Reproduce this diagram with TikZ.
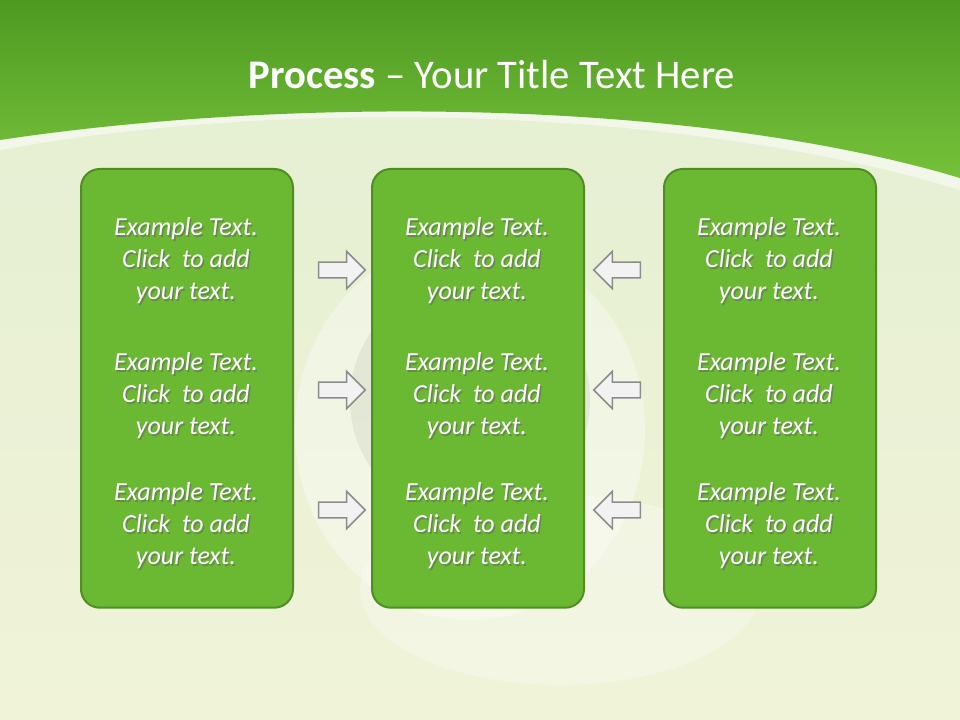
\documentclass[tikz,border=0pt]{standalone}
\usepackage{fontspec}
\setmainfont{Carlito}
\usetikzlibrary{shapes.arrows,shadows}
\definecolor{boxg}{HTML}{6BB833}
\definecolor{boxb}{HTML}{4F8E24}
\definecolor{bgl}{HTML}{E4EFD2}
\definecolor{bgb}{HTML}{F0F3D8}
\definecolor{topa}{HTML}{4E9A22}
\definecolor{topb}{HTML}{76C13A}
\tikzset{
  panel/.style={draw=boxb,line width=1.5pt,fill=boxg,rounded corners=14pt,minimum width=159pt,minimum height=329pt,anchor=north west,inner sep=0pt},
  txtf/.style={font=\itshape\fontsize{19.5}{24}\selectfont,align=center},
  arr/.style={single arrow,draw=gray!90,fill=white!90!gray,line width=1.2pt,minimum height=35pt,minimum width=28pt,single arrow head extend=5pt,inner sep=3pt}
}
\begin{document}
\begin{tikzpicture}[x=0.75pt,y=-0.75pt]
\useasboundingbox (0,0) rectangle (960,720);
\shade[top color=bgl,bottom color=bgb] (0,0) rectangle (960,720);
% faint background decoration
\fill[white,opacity=0.35] (470,430) ellipse (175 and 190);
\fill[white,opacity=0.3] (560,590) ellipse (200 and 95);
\fill[bgl!60!gray,opacity=0.25] (470,400) ellipse (120 and 120);
% top band
\fill[white,opacity=0.5] (0,150) .. controls (300,95) and (700,110) .. (960,190) -- (960,170) .. controls (700,95) and (300,85) .. (0,140) -- cycle;
\shade[top color=topa,bottom color=topb] (0,0) -- (960,0) -- (960,178) .. controls (700,100) and (300,95) .. (0,140) -- cycle;
\node[text=white,font=\fontsize{30.5}{34}\selectfont] (title) at (492,75) {\textbf{Process} -- Your Title Text Here};
% panels
\node[panel] (p1) at (80,168) {};
\node[panel] (p2) at (371,168) {};
\node[panel] (p3) at (663,168) {};
\foreach \p/\x in {p1/186,p2/477,p3/769}{
  \foreach \y/\r in {261/a,396/b,526/c}{
    \node[txtf,text=black!60,opacity=0.6] (\p\r s) at (\x+1.5,\y+1.5) {Example Text.\\Click~ to add\\your text.};
    \node[txtf,text=white] (\p\r) at (\x,\y) {Example Text.\\Click~ to add\\your text.};
  }
}
% arrows
\foreach \r/\y in {a/270,b/390,c/510}{
  \node[arr] (ar\r) at (338,\y) {};
  \node[arr,shape border rotate=180] (al\r) at (621,\y) {};
}
\end{tikzpicture}
\end{document}
